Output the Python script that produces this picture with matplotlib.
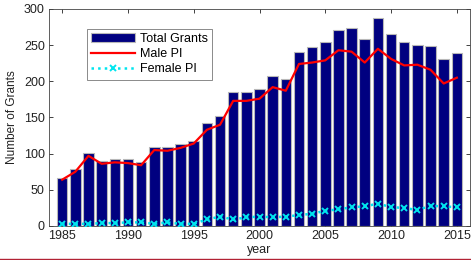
import matplotlib
matplotlib.use("Agg")
import matplotlib.pyplot as plt
from matplotlib.lines import Line2D

years = list(range(1985, 2016))
total_grants = [67, 79, 101, 90, 92, 92, 88, 109, 109, 114, 118, 142, 152, 185, 185, 190,
                207, 203, 241, 248, 255, 271, 274, 259, 287, 266, 254, 250, 249, 231, 239]
male_pi = [64, 75, 97, 86, 88, 87, 84, 105, 104, 108, 114, 133, 140, 173, 173, 176,
           192, 187, 224, 226, 229, 243, 241, 226, 245, 231, 222, 223, 216, 197, 205]
female_pi = [3, 3, 3, 4, 4, 5, 5, 3, 5, 3, 3, 9, 13, 9, 12, 13,
             12, 13, 15, 17, 21, 23, 26, 27, 31, 26, 25, 22, 28, 27, 26]
yticks = [0, 50, 100, 150, 200, 250, 300]
xticks = [1985, 1990, 1995, 2000, 2005, 2010, 2015]

plt.rcParams['font.family'] = ['Liberation Sans', 'DejaVu Sans']
fig = plt.figure(figsize=(4.71, 2.60), dpi=100)
ax = fig.add_axes([49/471, 1-226/260, (470-49)/471, (226-9)/260])

b = ax.bar(years, total_grants, width=0.8, color='#000080', edgecolor='#b8b8b8',
           linewidth=0.8, label='Total Grants', zorder=2)
m, = ax.plot(years, male_pi, color='#ff0000', linewidth=1.6, label='Male PI', zorder=3)
f, = ax.plot(years, female_pi, color='#00e5ee', linestyle=':', linewidth=1.8, marker='x',
             markersize=4, markeredgewidth=1.4, label='Female PI', zorder=3)

ax.set_xlim(1984, 2016)
ax.set_ylim(0, 300)
ax.set_xticks(xticks)
ax.set_yticks(yticks)
ax.tick_params(direction='in', length=3, width=0.6, top=True, right=True,
               labelsize=9, colors='#222222', pad=3)
for s in ax.spines.values():
    s.set_linewidth(0.6)
    s.set_color('#444444')
ax.set_xlabel('year', fontsize=9, labelpad=1, color='#222222')
ax.set_ylabel('Number of Grants', fontsize=8.5, labelpad=4, color='#222222')

leg = ax.legend([b, m, f], ['Total Grants', 'Male PI', 'Female PI'],
                loc='upper left', bbox_to_anchor=(0.09, 0.91), fontsize=9,
                frameon=True, fancybox=False, edgecolor='#555555', numpoints=1,
                handlelength=3.5, handletextpad=0.4, borderpad=0.35,
                labelspacing=0.25, borderaxespad=0)
leg.get_frame().set_linewidth(0.6)

fig.add_artist(Line2D([0, 1], [1-259/260, 1-259/260], color='#b22234',
                      linewidth=1.0, transform=fig.transFigure))

fig.savefig('out.png', dpi=100)
